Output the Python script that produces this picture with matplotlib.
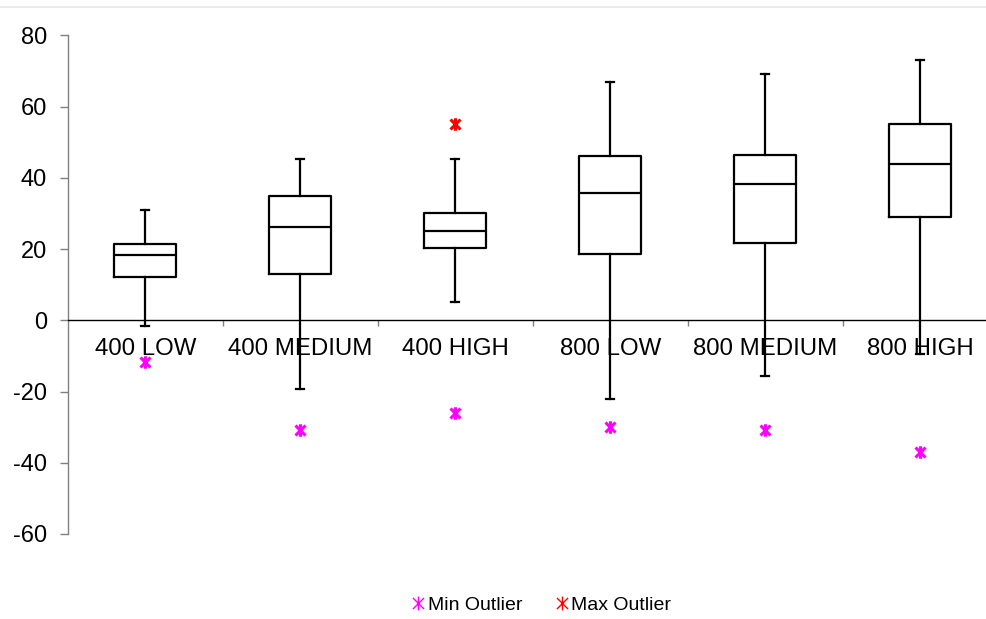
import matplotlib
matplotlib.use("Agg")
import matplotlib.pyplot as plt
from matplotlib.path import Path
from matplotlib.lines import Line2D

categories = ["400 LOW", "400 MEDIUM", "400 HIGH", "800 LOW", "800 MEDIUM", "800 HIGH"]
whisker_low = [-1.6, -19.2, 5.1, -22.0, -15.6, -9.4]
q1 = [12.1, 13.1, 20.2, 18.7, 21.6, 29.1]
median = [18.2, 26.3, 25.1, 35.6, 38.2, 44.0]
q3 = [21.4, 34.8, 30.1, 46.0, 46.3, 55.1]
whisker_high = [30.9, 45.2, 45.2, 67.0, 69.2, 73.2]
min_outlier = [-11.8, -30.7, -25.9, -30.0, -30.9, -37.0]
max_outlier = [None, None, 55.1, None, None, None]
yticks = [-60, -40, -20, 0, 20, 40, 60, 80]

plt.rcParams['font.family'] = ['Liberation Sans', 'DejaVu Sans']

W, H = 987, 619
fig = plt.figure(figsize=(W / 100, H / 100), dpi=100)
ax = fig.add_axes([67.7 / W, 1 - 534 / H, 930 / W, (534 - 35.3) / H])

stats = []
for i, c in enumerate(categories):
    stats.append(dict(label=c, med=median[i], q1=q1[i], q3=q3[i],
                      whislo=whisker_low[i], whishi=whisker_high[i], fliers=[]))
pos = list(range(len(categories)))
lw = 1.6
ax.bxp(stats, positions=pos, widths=0.4, showfliers=False, capwidths=0.05,
       boxprops=dict(color='black', linewidth=lw),
       medianprops=dict(color='black', linewidth=lw),
       whiskerprops=dict(color='black', linewidth=lw),
       capprops=dict(color='black', linewidth=lw),
       manage_ticks=False, zorder=3)

# asterisk marker: vertical bar + X
star = Path([(0, -1), (0, 1), (-0.8, -0.8), (0.8, 0.8), (-0.8, 0.8), (0.8, -0.8)],
            [Path.MOVETO, Path.LINETO, Path.MOVETO, Path.LINETO, Path.MOVETO, Path.LINETO])

ax.plot(pos, min_outlier, linestyle='none', marker=star, markersize=9,
        markeredgewidth=2.2, color='#ff00ff', zorder=4)
mx = [(p, v) for p, v in zip(pos, max_outlier) if v is not None]
ax.plot([p for p, v in mx], [v for p, v in mx], linestyle='none', marker=star,
        markersize=9, markeredgewidth=2.2, color='#ff0000', zorder=4)

ax.set_xlim(-0.5, len(categories) - 0.5)
ax.set_ylim(-60, 80)
ax.set_yticks(yticks)
ax.set_yticklabels([str(v) for v in yticks])

for s in ['top', 'right']:
    ax.spines[s].set_visible(False)
ax.spines['left'].set_color('#808080')
ax.spines['left'].set_linewidth(1.0)
ax.spines['bottom'].set_position(('data', 0))
ax.spines['bottom'].set_color('black')
ax.spines['bottom'].set_linewidth(1.0)

ax.tick_params(axis='y', direction='out', length=6, width=1, color='#808080',
               labelsize=17, pad=9, labelcolor='black')
ax.set_xticks([i + 0.5 for i in range(len(categories) - 1)])
ax.set_xticklabels([])
ax.set_xticks(pos, minor=True)
ax.set_xticklabels(categories, minor=True)
ax.tick_params(axis='x', which='major', direction='out', length=4, width=1, color='#808080')
ax.tick_params(axis='x', which='minor', length=0, labelsize=17.3, pad=12.5)

# top border line
fig.add_artist(Line2D([0, 1], [1 - 7 / H, 1 - 7 / H], color='#e8e8e8', linewidth=1.2,
                      transform=fig.transFigure))

h1 = Line2D([], [], linestyle='none', marker=star, markersize=10, markeredgewidth=1.0, color='#ff00ff')
h2 = Line2D([], [], linestyle='none', marker=star, markersize=10, markeredgewidth=1.0, color='#ff0000')
fig.legend([h1, h2], ['Min Outlier', 'Max Outlier'], loc='center',
           bbox_to_anchor=(541 / W, 1 - 605 / H), ncol=2, frameon=False,
           fontsize=14, handlelength=0.8, handletextpad=0.1, columnspacing=1.6)

fig.savefig('out.png', dpi=100)
